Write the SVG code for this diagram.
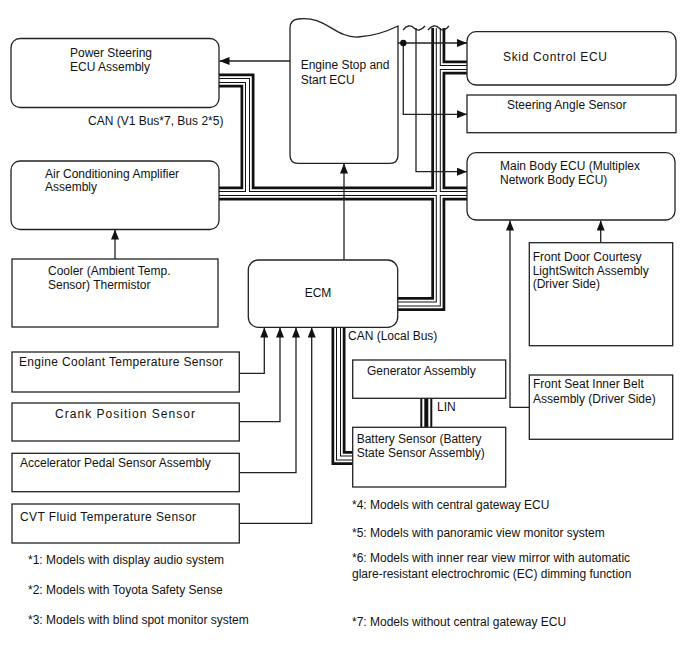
<svg xmlns="http://www.w3.org/2000/svg" xmlns:xlink="http://www.w3.org/1999/xlink" width="688" height="658" viewBox="0 0 688 658">
<style>
text{font-family:"Liberation Sans",Arial,sans-serif;font-size:12px;fill:#111}
.box{fill:#fff;stroke:#222;stroke-width:1.3}
.ln{fill:none;stroke:#222;stroke-width:1.3}
.arr{marker-end:url(#ah)}
.b1{fill:none;stroke:#111;stroke-width:14;stroke-linejoin:miter}
.b2{fill:none;stroke:#fff;stroke-width:8.5;stroke-linejoin:miter}
.b3{fill:none;stroke:#111;stroke-width:5;stroke-linejoin:miter}
.b4{fill:none;stroke:#fff;stroke-width:3;stroke-linejoin:miter}
.l1{fill:none;stroke:#111;stroke-width:12}
.l2{fill:none;stroke:#fff;stroke-width:8}
.l3{fill:none;stroke:#111;stroke-width:4}
.wave{fill:none;stroke:#222;stroke-width:1.3}
</style>
<defs>
<marker id="ah" viewBox="0 0 10 8" refX="10" refY="4" markerWidth="10" markerHeight="8" markerUnits="userSpaceOnUse" orient="auto">
<path d="M0,0 L10,4 L0,8 Z" fill="#111"/>
</marker>
<path id="bus" d="M214,193.5 H470 M214,80.5 H247.5 V193.5 M438.3,28 V304 H393 M438.3,67.5 H470 M338.5,322 V458 H356"/>
<path id="lin" d="M426.3,395 V430"/>
</defs>

<g id="connectors">
<use xlink:href="#bus" href="#bus" class="b1"/>
<use xlink:href="#bus" href="#bus" class="b2"/>
<use xlink:href="#bus" href="#bus" class="b3"/>
<use xlink:href="#bus" href="#bus" class="b4"/>
<use xlink:href="#lin" href="#lin" class="l1"/>
<use xlink:href="#lin" href="#lin" class="l2"/>
<use xlink:href="#lin" href="#lin" class="l3"/>
<path class="ln arr" d="M290,61 H219.5"/>
<path class="ln arr" d="M344,260 V163.5"/>
<path class="ln arr" d="M398,43 H467"/>
<path class="ln arr" d="M403.3,43 V114.3 H467"/>
<path class="ln arr" d="M416,28 V171.7 H467"/>
<circle cx="403.3" cy="43" r="3.2" fill="#111"/>
<path class="wave" d="M403,30 C407,25 411,25 414,28 S421,31 425,26"/>
<path class="wave" d="M428,30 C432,25 436,25 439,28 S445,31 449,26"/>
<path class="ln arr" d="M115,259 V229.5"/>
<path class="ln arr" d="M600.7,242.7 V220.5"/>
<path class="ln arr" d="M529.3,407.3 H510 V220.5"/>
<path class="ln arr" d="M239.3,373.3 H264.3 V327.5"/>
<path class="ln arr" d="M239.3,421.7 H280 V327.5"/>
<path class="ln arr" d="M239.3,472.7 H296 V327.5"/>
<path class="ln arr" d="M239.3,523.3 H311.7 V327.5"/>
</g>

<g id="power-steering">
<rect class="box" x="11" y="38.5" width="208" height="69" rx="9"/>
<text x="70" y="57">Power Steering</text>
<text x="70" y="71">ECU Assembly</text>
</g>
<g id="can-label">
<text x="88" y="125">CAN (V1 Bus*7, Bus 2*5)</text>
</g>
<g id="air-conditioning">
<rect class="box" x="11" y="161" width="208" height="68.5" rx="9"/>
<text x="45" y="177.5">Air Conditioning Amplifier</text>
<text x="45" y="191">Assembly</text>
</g>
<g id="engine-stop-start">
<path class="box" d="M290,155 V28 Q290,20 298,19 C325,15 335,38 358,37 C375,36 390,30 398,26 V155 Q398,163.3 390,163.3 H298 Q290,163.3 290,155 Z"/>
<text x="300.7" y="69.3">Engine Stop and</text>
<text x="300.7" y="83.6">Start ECU</text>
</g>
<g id="skid-control">
<rect class="box" x="467" y="31.7" width="209" height="53.3" rx="9"/>
<text x="503" y="60.5" textLength="104" lengthAdjust="spacing">Skid Control ECU</text>
</g>
<g id="steering-angle">
<rect class="box" x="467" y="95" width="209" height="37.7"/>
<text x="507" y="108.5">Steering Angle Sensor</text>
</g>
<g id="main-body">
<rect class="box" x="467" y="152.7" width="208" height="67.3" rx="9"/>
<text x="500" y="169.5">Main Body ECU (Multiplex</text>
<text x="500" y="183.5">Network Body ECU)</text>
</g>
<g id="cooler">
<rect class="box" x="12" y="259" width="206" height="68"/>
<text x="48" y="274.5">Cooler (Ambient Temp.</text>
<text x="48" y="288.5">Sensor) Thermistor</text>
</g>
<g id="ecm">
<rect class="box" x="248.3" y="260" width="149.4" height="67.3" rx="10"/>
<text x="318" y="296.6" text-anchor="middle">ECM</text>
</g>
<g id="can-local-label">
<text x="348" y="340">CAN (Local Bus)</text>
</g>
<g id="engine-coolant">
<rect class="box" x="12" y="352" width="227.3" height="40"/>
<text x="19" y="365.5" textLength="204" lengthAdjust="spacing">Engine Coolant Temperature Sensor</text>
</g>
<g id="crank-position">
<rect class="box" x="12" y="403" width="227.3" height="38"/>
<text x="55" y="418" textLength="140" lengthAdjust="spacing">Crank Position Sensor</text>
</g>
<g id="accelerator-pedal">
<rect class="box" x="12" y="453.3" width="227.3" height="38.4"/>
<text x="20" y="466.5">Accelerator Pedal Sensor Assembly</text>
</g>
<g id="cvt-fluid">
<rect class="box" x="12" y="504" width="227.3" height="39"/>
<text x="20" y="520.5" textLength="176" lengthAdjust="spacing">CVT Fluid Temperature Sensor</text>
</g>
<g id="generator">
<rect class="box" x="352.7" y="360" width="153" height="38.3"/>
<text x="367" y="375">Generator Assembly</text>
</g>
<g id="lin-label">
<text x="437" y="411">LIN</text>
</g>
<g id="battery-sensor">
<rect class="box" x="352.7" y="427.3" width="153" height="59.7"/>
<text x="356.7" y="443.3">Battery Sensor (Battery</text>
<text x="356.7" y="457">State Sensor Assembly)</text>
</g>
<g id="front-door">
<rect class="box" x="529.3" y="242.7" width="143.4" height="103"/>
<text x="532.7" y="261">Front Door Courtesy</text>
<text x="532.7" y="275">LightSwitch Assembly</text>
<text x="532.7" y="288.3">(Driver Side)</text>
</g>
<g id="front-seat">
<rect class="box" x="529.3" y="375" width="143.4" height="64.3"/>
<text x="533" y="387.7">Front Seat Inner Belt</text>
<text x="533" y="402.7">Assembly (Driver Side)</text>
</g>
<g id="footnotes">
<text x="28" y="564">*1: Models with display audio system</text>
<text x="28" y="594">*2: Models with Toyota Safety Sense</text>
<text x="28" y="624">*3: Models with blind spot monitor system</text>
<text x="352" y="509">*4: Models with central gateway ECU</text>
<text x="352" y="537">*5: Models with panoramic view monitor system</text>
<text x="352" y="562">*6: Models with inner rear view mirror with automatic</text>
<text x="352" y="578">glare-resistant electrochromic (EC) dimming function</text>
<text x="352" y="626">*7: Models without central gateway ECU</text>
</g>
</svg>
